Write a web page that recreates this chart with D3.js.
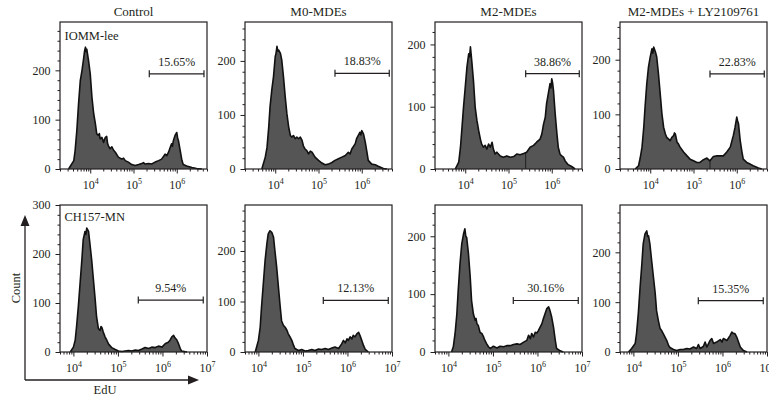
<!DOCTYPE html>
<html><head><meta charset="utf-8">
<script src="https://cdn.jsdelivr.net/npm/d3@7"></script>
<style>
body{margin:0;background:#fff}
text{font-family:"Liberation Serif","Times New Roman",serif;fill:#231f20}
</style>
</head><body>
<svg id="chart" width="769" height="400"></svg>
<script>
// ---------- data ----------
const conditions = ["Control", "M0-MDEs", "M2-MDEs", "M2-MDEs + LY2109761"];
const cellLines = ["IOMM-lee", "CH157-MN"];
const percents = [["15.65%", "18.83%", "38.86%", "22.83%"], ["9.54%", "12.13%", "30.16%", "15.35%"]];
const xDomains = [[2e3, 5e6], [5e3, 1e7]];
const yMax = [[298, 272, 236, 269], [300, 291, 254, 295]];
const gateLog = [[[5.365, 6.629], [5.381, 6.636], [5.397, 6.636], [5.381, 6.636]],
                 [[5.457, 6.916], [5.457, 6.916], [5.457, 6.916], [5.457, 6.916]]];
const gateCount = [[193, 177, 153, 174], [106, 102, 89, 103]];
const gateDivider = [[false, false, true, true], [false, false, false, false]];
const majorY = [0, 100, 200, 300];

// [log10(EdU), count]
const iommControl = [[3.50,0],[3.62,17],[3.65,37],[3.69,78],[3.73,132],[3.77,179],[3.81,200],[3.85,226],[3.87,240],[3.89,247],[3.90,238],[3.92,243],[3.96,220],[4.00,193],[4.04,145],[4.08,112],[4.12,91],[4.15,71],[4.19,68],[4.21,72],[4.23,61],[4.27,64],[4.31,54],[4.33,60],[4.35,64],[4.38,66],[4.40,52],[4.42,47],[4.46,41],[4.50,45],[4.54,38],[4.58,34],[4.65,24],[4.73,20],[4.77,22],[4.81,17],[4.88,14],[4.96,9],[5.04,7],[5.12,9],[5.19,11],[5.23,13],[5.27,10],[5.35,11],[5.42,10],[5.50,14],[5.58,17],[5.65,20],[5.73,30],[5.77,27],[5.81,34],[5.85,44],[5.88,51],[5.90,46],[5.92,57],[5.96,68],[6.00,74],[6.02,63],[6.04,57],[6.08,37],[6.12,17],[6.15,9],[6.23,6],[6.35,3],[6.46,1],[6.58,0]];
const iommM0 = [[3.69,0],[3.77,22],[3.81,40],[3.85,78],[3.88,115],[3.92,146],[3.96,171],[4.00,208],[4.02,215],[4.04,227],[4.06,218],[4.08,220],[4.12,214],[4.15,202],[4.19,171],[4.23,134],[4.27,102],[4.31,78],[4.35,62],[4.38,59],[4.42,62],[4.46,56],[4.50,59],[4.54,56],[4.58,59],[4.62,53],[4.65,43],[4.69,37],[4.73,34],[4.77,28],[4.81,33],[4.85,31],[4.92,22],[5.00,16],[5.08,11],[5.15,8],[5.23,9],[5.31,12],[5.38,16],[5.46,19],[5.54,22],[5.62,25],[5.69,31],[5.73,28],[5.77,37],[5.85,47],[5.88,56],[5.92,62],[5.96,68],[5.98,63],[6.00,71],[6.04,65],[6.08,50],[6.12,31],[6.15,16],[6.23,9],[6.31,8],[6.38,5],[6.50,1],[6.58,0]];
const iommM2 = [[3.77,0],[3.85,11],[3.89,35],[3.92,62],[3.96,99],[4.00,131],[4.04,164],[4.08,185],[4.10,180],[4.12,196],[4.15,174],[4.19,142],[4.23,99],[4.27,78],[4.31,62],[4.35,48],[4.38,40],[4.42,35],[4.46,38],[4.50,32],[4.54,40],[4.58,35],[4.62,43],[4.65,32],[4.69,24],[4.73,27],[4.81,21],[4.88,19],[4.96,21],[5.04,19],[5.12,20],[5.19,24],[5.27,23],[5.35,25],[5.42,27],[5.50,35],[5.58,38],[5.65,43],[5.73,48],[5.77,56],[5.81,72],[5.85,83],[5.88,105],[5.92,121],[5.96,137],[5.98,130],[6.00,145],[6.02,138],[6.04,126],[6.08,88],[6.12,56],[6.15,35],[6.19,24],[6.23,21],[6.27,19],[6.31,13],[6.38,7],[6.46,4],[6.54,0]];
const iommM2LY = [[3.65,0],[3.73,6],[3.77,21],[3.81,40],[3.85,76],[3.88,113],[3.92,156],[3.96,187],[4.00,205],[4.04,220],[4.06,212],[4.08,223],[4.12,214],[4.15,205],[4.19,174],[4.23,138],[4.27,101],[4.31,76],[4.35,64],[4.38,58],[4.42,55],[4.46,52],[4.50,58],[4.54,61],[4.56,66],[4.58,64],[4.62,49],[4.65,46],[4.69,40],[4.77,31],[4.85,24],[4.92,18],[5.00,15],[5.08,12],[5.15,12],[5.23,17],[5.31,20],[5.38,15],[5.46,23],[5.54,24],[5.62,24],[5.69,24],[5.77,31],[5.85,40],[5.88,49],[5.92,61],[5.96,76],[6.00,95],[6.02,88],[6.04,83],[6.08,52],[6.12,31],[6.15,18],[6.23,12],[6.31,9],[6.38,6],[6.50,2],[6.58,0]];
const chControl = [[3.93,0],[4.00,10],[4.04,24],[4.07,51],[4.11,92],[4.15,140],[4.19,188],[4.22,229],[4.26,246],[4.28,240],[4.30,253],[4.34,246],[4.37,222],[4.41,188],[4.45,147],[4.49,106],[4.52,72],[4.56,48],[4.60,44],[4.62,52],[4.64,50],[4.67,41],[4.71,31],[4.75,24],[4.79,16],[4.86,9],[4.94,5],[5.01,2],[5.09,1],[5.16,2],[5.24,3],[5.31,2],[5.39,4],[5.46,3],[5.54,6],[5.61,9],[5.69,7],[5.76,10],[5.84,9],[5.91,12],[5.99,10],[6.06,17],[6.13,20],[6.17,24],[6.21,31],[6.25,34],[6.28,29],[6.32,25],[6.36,17],[6.40,7],[6.43,2],[6.55,0]];
const chM0 = [[3.93,0],[3.96,10],[4.00,23],[4.04,49],[4.07,89],[4.11,135],[4.15,181],[4.19,214],[4.22,234],[4.26,240],[4.30,237],[4.34,227],[4.37,201],[4.41,168],[4.45,128],[4.49,89],[4.52,62],[4.56,53],[4.60,49],[4.64,43],[4.67,36],[4.71,30],[4.75,23],[4.79,13],[4.82,7],[4.90,3],[4.97,5],[5.05,2],[5.12,3],[5.20,5],[5.27,3],[5.35,6],[5.42,5],[5.50,7],[5.57,5],[5.65,8],[5.72,10],[5.80,7],[5.87,16],[5.91,23],[5.95,18],[5.99,26],[6.02,23],[6.06,30],[6.10,26],[6.13,33],[6.17,30],[6.21,36],[6.25,39],[6.28,33],[6.32,23],[6.36,13],[6.40,5],[6.47,0]];
const chM2 = [[4.07,0],[4.11,9],[4.15,32],[4.19,66],[4.22,106],[4.26,152],[4.30,187],[4.34,204],[4.37,213],[4.39,200],[4.41,198],[4.45,170],[4.49,129],[4.52,89],[4.56,66],[4.60,55],[4.62,58],[4.64,49],[4.67,46],[4.71,34],[4.75,32],[4.79,26],[4.82,20],[4.86,14],[4.90,9],[4.94,6],[5.01,10],[5.09,7],[5.16,10],[5.24,9],[5.31,11],[5.39,11],[5.46,13],[5.54,14],[5.61,13],[5.69,17],[5.76,20],[5.80,29],[5.84,23],[5.87,32],[5.91,26],[5.95,34],[5.99,33],[6.02,37],[6.06,43],[6.10,49],[6.13,57],[6.17,66],[6.21,75],[6.25,78],[6.28,72],[6.32,60],[6.36,43],[6.40,20],[6.43,6],[6.51,2],[6.58,0]];
const chM2LY = [[3.89,0],[3.96,7],[4.04,17],[4.07,37],[4.11,77],[4.15,130],[4.19,177],[4.22,217],[4.26,237],[4.30,243],[4.32,232],[4.34,233],[4.37,217],[4.41,183],[4.45,150],[4.49,117],[4.52,83],[4.56,63],[4.60,47],[4.64,42],[4.67,37],[4.71,30],[4.75,23],[4.79,13],[4.82,9],[4.90,5],[4.97,3],[5.05,5],[5.12,5],[5.20,7],[5.27,6],[5.35,10],[5.42,7],[5.46,15],[5.50,7],[5.57,11],[5.61,20],[5.65,10],[5.72,23],[5.76,27],[5.80,17],[5.87,20],[5.95,25],[5.99,20],[6.02,27],[6.10,23],[6.17,33],[6.21,40],[6.25,37],[6.28,37],[6.32,30],[6.36,20],[6.40,10],[6.47,3],[6.55,0]];

const series = [[iommControl, iommM0, iommM2, iommM2LY], [chControl, chM0, chM2, chM2LY]];

// ---------- layout ----------
const lefts = [60, 245, 435, 620];
const tops = [22, 205];
const W = 147, H = 147;
const ink = "#231f20";

const svg = d3.select("#chart");

function supLabel(sel, d) {
  sel.text("");
  sel.append("tspan").text("10");
  sel.append("tspan").attr("dy", -5).attr("font-size", 8).text(Math.round(Math.log10(d)));
}

for (let r = 0; r < 2; r++) {
  for (let c = 0; c < 4; c++) {
    const x0 = lefts[c], y0 = tops[r];
    const g = svg.append("g").attr("transform", `translate(${x0},${y0})`);
    const x = d3.scaleLog().domain(xDomains[r]).range([0, W]);
    const y = d3.scaleLinear().domain([0, yMax[r][c]]).range([H, 0]);
    const data = series[r][c];

    // histogram area
    const area = d3.area()
      .x(d => x(Math.pow(10, d[0])))
      .y0(y(0))
      .y1(d => y(d[1]));
    const line = d3.line()
      .x(d => x(Math.pow(10, d[0])))
      .y(d => y(d[1]));
    g.append("path").datum(data).attr("d", area).attr("fill", "#555555");
    g.append("path").datum(data).attr("d", line).attr("fill", "none")
      .attr("stroke", "#111").attr("stroke-width", 1.6).attr("stroke-linejoin", "round");

    if (gateDivider[r][c]) {
      const gl = gateLog[r][c][0];
      const i = d3.bisector(d => d[0]).left(data, gl);
      const a = data[i - 1], b = data[i];
      const t = (gl - a[0]) / (b[0] - a[0]);
      const v = a[1] + t * (b[1] - a[1]);
      const gx = x(Math.pow(10, gl));
      g.append("line").attr("x1", gx).attr("x2", gx).attr("y1", y(0)).attr("y2", y(v))
        .attr("stroke", "#111").attr("stroke-width", 0.8);
    }

    // x axis: major + minor ticks
    const [d0, d1] = xDomains[r];
    const majors = [];
    const minors = [];
    for (let e = 3; e <= 7; e++) {
      const m = Math.pow(10, e);
      if (m >= d0 && m <= d1 * 1.0001) majors.push(m);
      for (let k = 2; k <= 9; k++) {
        const v = k * m;
        if (v >= d0 && v <= d1) minors.push(v);
      }
    }
    const xMinor = g.append("g").attr("transform", `translate(0,${H})`)
      .call(d3.axisBottom(x).tickValues(minors).tickSize(2.5).tickFormat(""));
    xMinor.select(".domain").remove();
    const xMajor = g.append("g").attr("transform", `translate(0,${H})`)
      .call(d3.axisBottom(x).tickValues(majors).tickSize(4.5));
    xMajor.select(".domain").remove();
    xMajor.selectAll(".tick text")
      .attr("y", 20).attr("dy", 0)
      .attr("font-size", 12)
      .attr("font-family", "Liberation Serif, serif")
      .attr("fill", ink)
      .each(function(d) { supLabel(d3.select(this), d); });
    [xMinor, xMajor].forEach(a => a.selectAll(".tick line").attr("stroke", ink));

    // y axis
    const yM = yMax[r][c];
    const yMajors = majorY.filter(v => v <= yM + 0.5);
    const yMinors = [];
    for (let v = 20; v < yM; v += 20) if (v % 100 !== 0) yMinors.push(v);
    const yMinorAx = g.append("g")
      .call(d3.axisLeft(y).tickValues(yMinors).tickSize(2.5).tickFormat(""));
    yMinorAx.select(".domain").remove();
    const yMajorAx = g.append("g")
      .call(d3.axisLeft(y).tickValues(yMajors).tickSize(4.5).tickPadding(5));
    yMajorAx.select(".domain").remove();
    yMajorAx.selectAll(".tick text").attr("font-size", 12)
      .attr("font-family", "Liberation Serif, serif").attr("fill", ink);
    [yMinorAx, yMajorAx].forEach(a => a.selectAll(".tick line").attr("stroke", ink));

    // frame
    g.append("rect").attr("x", 0).attr("y", 0).attr("width", W).attr("height", H)
      .attr("fill", "none").attr("stroke", ink).attr("stroke-width", 1.2);

    // gate
    const gx1 = x(Math.pow(10, gateLog[r][c][0]));
    const gx2 = x(Math.pow(10, gateLog[r][c][1]));
    const gy = y(gateCount[r][c]);
    const gate = g.append("g").attr("stroke", ink).attr("stroke-width", 1.2);
    gate.append("line").attr("x1", gx1).attr("x2", gx2).attr("y1", gy).attr("y2", gy);
    gate.append("line").attr("x1", gx1).attr("x2", gx1).attr("y1", gy - 3.5).attr("y2", gy + 3.5);
    gate.append("line").attr("x1", gx2).attr("x2", gx2).attr("y1", gy - 3.5).attr("y2", gy + 3.5);
    g.append("text").attr("x", (gx1 + gx2) / 2).attr("y", gy - 8)
      .attr("text-anchor", "middle").attr("font-size", 12).text(percents[r][c]);

    // cell line label
    if (c === 0) {
      g.append("text").attr("x", 4.5).attr("y", r === 0 ? 18 : 15.5)
        .attr("font-size", 12.5).text(cellLines[r]);
    }
    // condition title
    if (r === 0) {
      svg.append("text").attr("x", x0 + W / 2).attr("y", 15.5)
        .attr("text-anchor", "middle").attr("font-size", 13).text(conditions[c]);
    }
  }
}

// Count / EdU arrows
const arr = svg.append("g");
arr.append("line").attr("x1", 25).attr("x2", 25).attr("y1", 380).attr("y2", 224)
  .attr("stroke", ink).attr("stroke-width", 1.3);
arr.append("line").attr("x1", 25).attr("x2", 190).attr("y1", 380).attr("y2", 380)
  .attr("stroke", ink).attr("stroke-width", 1.3);
arr.append("path").attr("d", "M25,215 L20.5,226 L29.5,226 Z").attr("fill", ink);
arr.append("path").attr("d", "M199,380 L188,375.5 L188,384.5 Z").attr("fill", ink);
svg.append("text").attr("transform", "translate(19.5,288) rotate(-90)")
  .attr("text-anchor", "middle").attr("font-size", 12.5).text("Count");
svg.append("text").attr("x", 105).attr("y", 394)
  .attr("text-anchor", "middle").attr("font-size", 12.5).text("EdU");
</script>
</body></html>
